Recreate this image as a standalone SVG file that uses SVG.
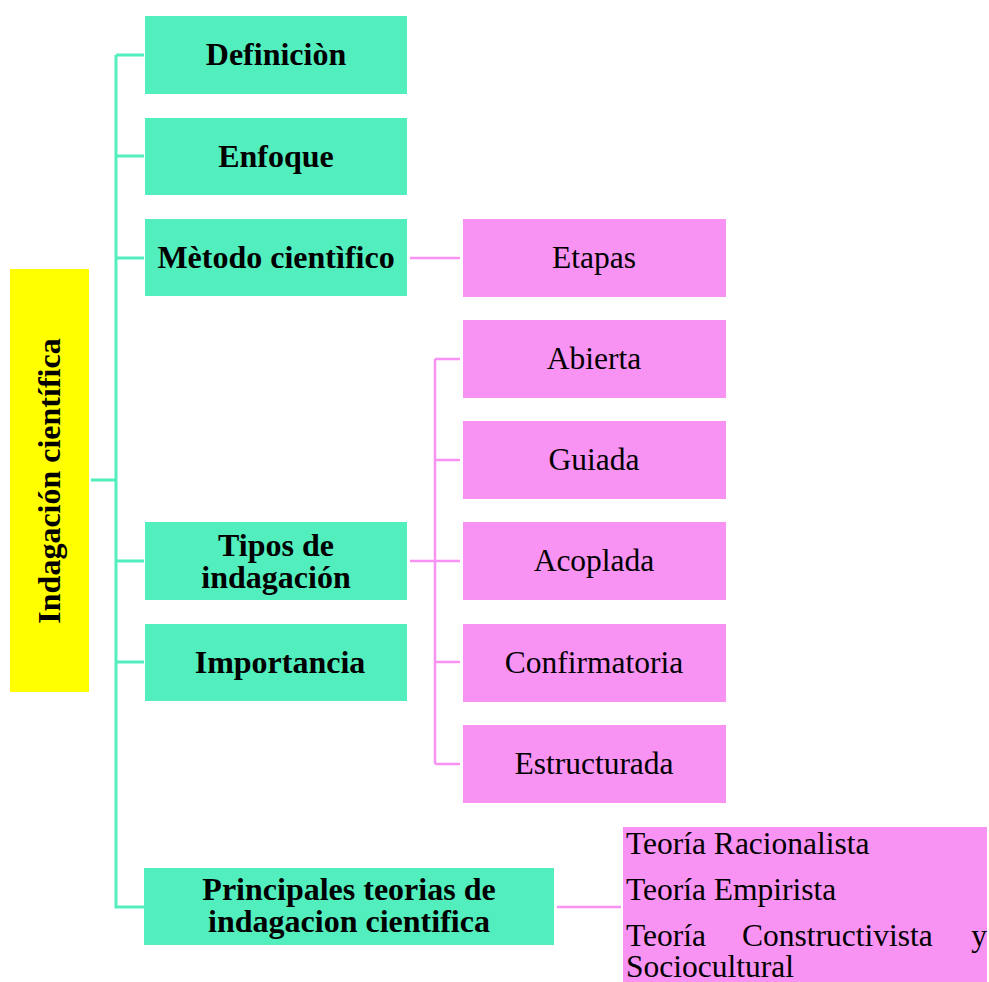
<svg xmlns="http://www.w3.org/2000/svg" width="989" height="982" viewBox="0 0 989 982">
<style>
.g{fill:#52EEBD}
.p{fill:#F892F3}
.y{fill:#FFFF00}
.tb{font-family:"Liberation Serif","Times New Roman",serif;font-weight:bold;font-size:32px;fill:#000;text-anchor:middle}
.tr{font-family:"Liberation Serif","Times New Roman",serif;font-size:31.5px;fill:#000;text-anchor:middle}
.tl{font-family:"Liberation Serif","Times New Roman",serif;font-size:31.5px;fill:#000}
.cg{stroke:#52EEBD;stroke-width:3;fill:none}
.cp{stroke:#F892F3;stroke-width:2.5;fill:none}
</style>
<rect width="989" height="982" fill="#fff"/>
<g id="connectors">
<path class="cg" d="M91 480H116M116 55V907H144M116 55H144M116 156H144M116 258H144M116 561H144M116 662H144"/>
<path class="cp" d="M410 258H460M410 561H460M435 359V764M435 359H460M435 460H460M435 662H460M435 764H460M557 907H621"/>
</g>
<g id="root"><rect class="y" x="10" y="269" width="79" height="423"/><text class="tb" transform="translate(60 481) rotate(-90)" x="0" y="0">Indagación científica</text></g>
<g id="definicion"><rect class="g" x="145" y="16" width="262" height="78"/><text class="tb" x="276" y="65">Definiciòn</text></g>
<g id="enfoque"><rect class="g" x="145" y="118" width="262" height="77"/><text class="tb" x="276" y="167">Enfoque</text></g>
<g id="metodo"><rect class="g" x="145" y="219" width="262" height="77"/><text class="tb" x="276" y="268">Mètodo cientìfico</text></g>
<g id="tipos"><rect class="g" x="145" y="522" width="262" height="78"/><text class="tb" x="276" y="556">Tipos de</text><text class="tb" x="276" y="588">indagación</text></g>
<g id="importancia"><rect class="g" x="145" y="624" width="262" height="77"/><text class="tb" x="280" y="673">Importancia</text></g>
<g id="principales"><rect class="g" x="144" y="868" width="410" height="77"/><text class="tb" x="349" y="900">Principales teorias de</text><text class="tb" x="349" y="932">indagacion cientifica</text></g>
<g id="etapas"><rect class="p" x="463" y="219" width="263" height="78"/><text class="tr" x="594" y="268">Etapas</text></g>
<g id="abierta"><rect class="p" x="463" y="320" width="263" height="78"/><text class="tr" x="594" y="369">Abierta</text></g>
<g id="guiada"><rect class="p" x="463" y="421" width="263" height="78"/><text class="tr" x="594" y="470">Guiada</text></g>
<g id="acoplada"><rect class="p" x="463" y="522" width="263" height="78"/><text class="tr" x="594" y="571">Acoplada</text></g>
<g id="confirmatoria"><rect class="p" x="463" y="624" width="263" height="78"/><text class="tr" x="594" y="673">Confirmatoria</text></g>
<g id="estructurada"><rect class="p" x="463" y="725" width="263" height="78"/><text class="tr" x="594" y="774">Estructurada</text></g>
<g id="teorias"><rect class="p" x="623" y="827" width="364" height="155"/>
<text class="tl" x="626" y="854">Teoría Racionalista</text>
<text class="tl" x="626" y="900">Teoría Empirista</text>
<text class="tl" x="626" y="946">Teoría</text><text class="tl" x="742" y="946">Constructivista</text><text class="tl" x="987" y="946" text-anchor="end">y</text>
<text class="tl" x="626" y="977">Sociocultural</text>
</g>
</svg>
